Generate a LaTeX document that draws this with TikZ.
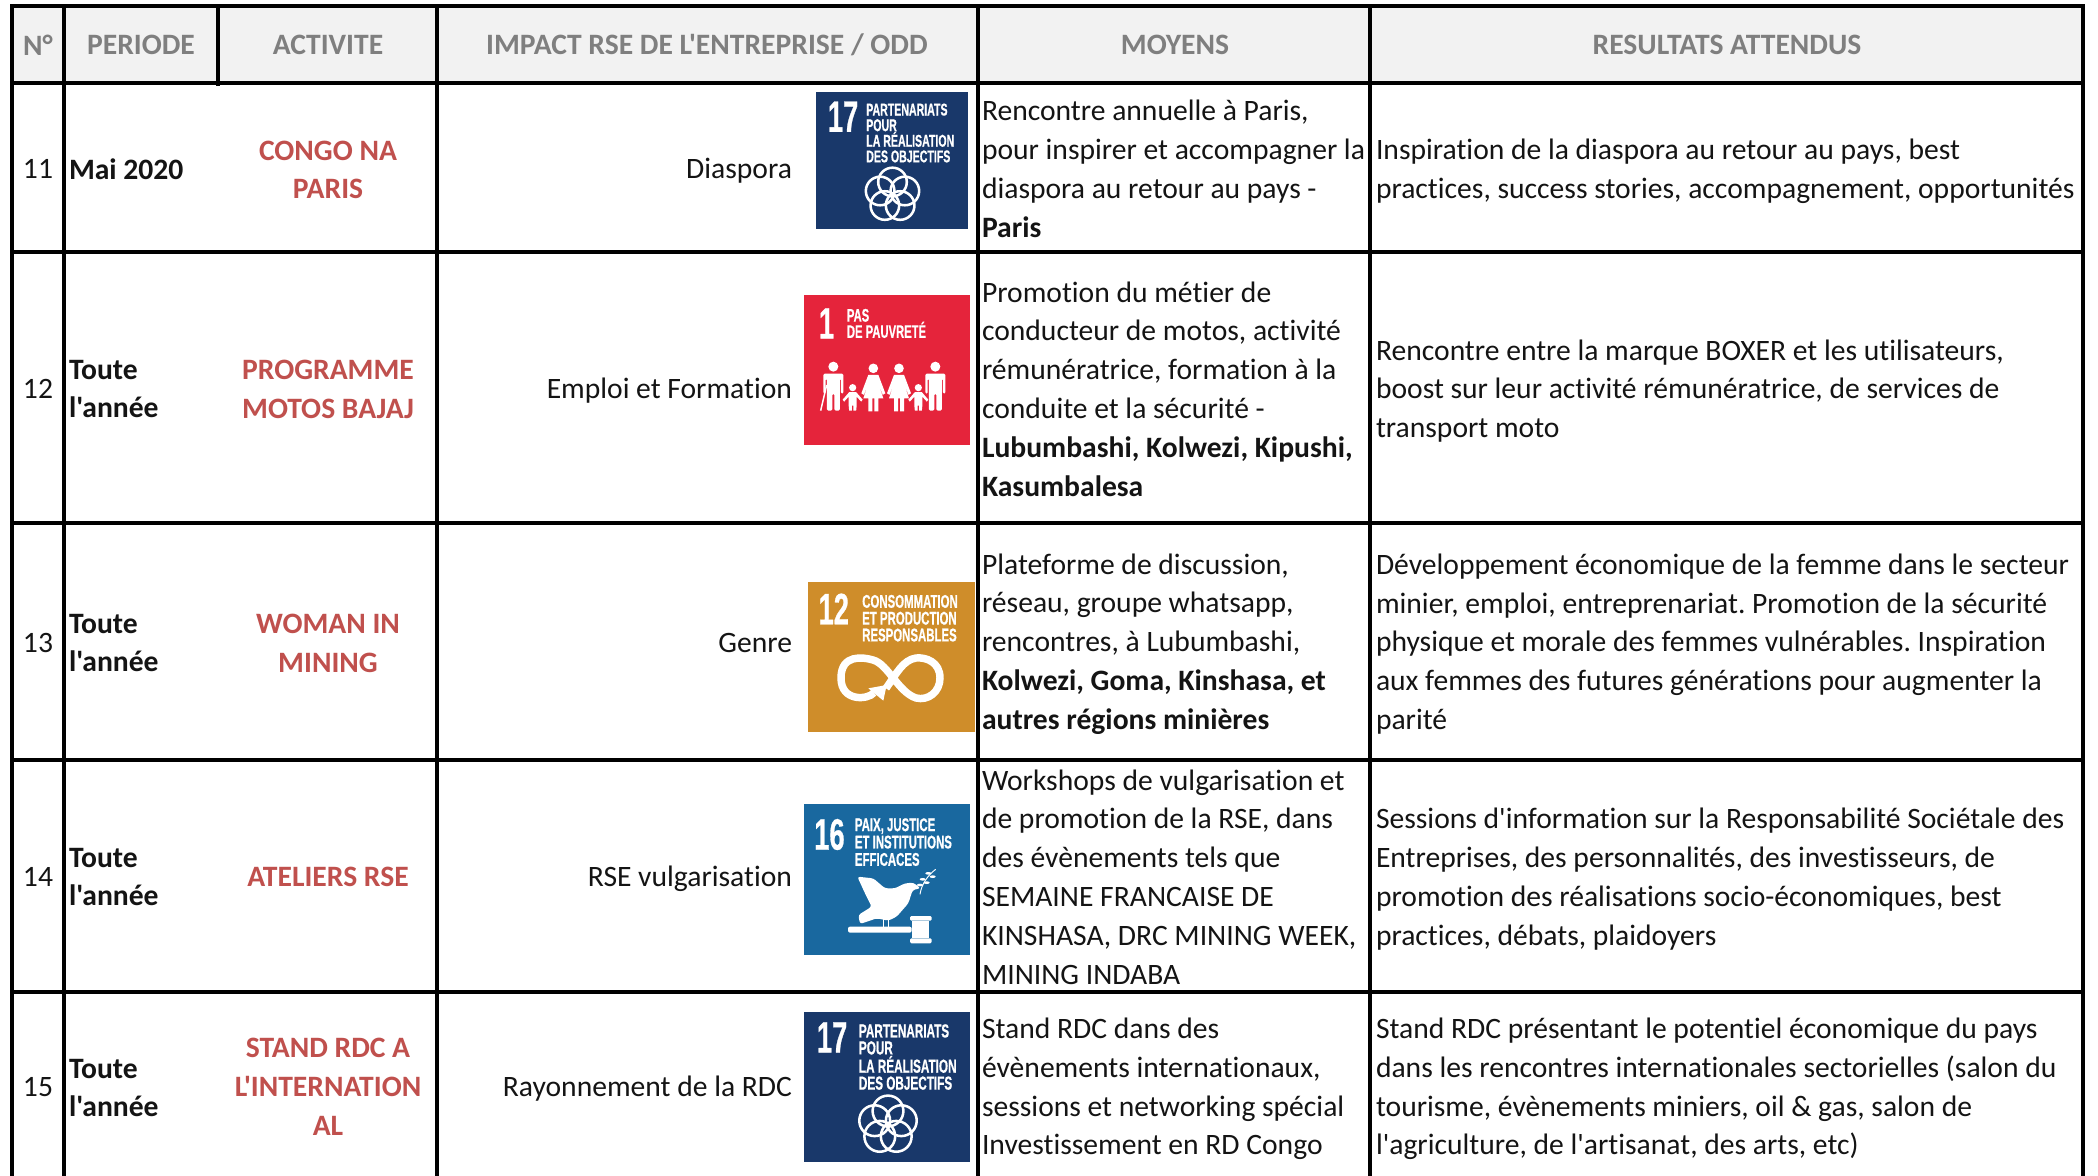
\documentclass[tikz,border=0pt]{standalone}
\usepackage{fontspec}
\setmainfont[Ligatures={TeXOff,NoCommon}]{Carlito}
\newfontfamily\sdgf[FakeStretch=0.62,BoldFeatures={FakeBold=0.6}]{Liberation Sans}
\definecolor{hdrbg}{HTML}{F2F2F2}
\definecolor{hdrtx}{HTML}{7F7F7F}
\definecolor{actred}{HTML}{C0504D}
\definecolor{sdgblue}{HTML}{19386A}
\definecolor{sdgred}{HTML}{E5243B}
\definecolor{sdggold}{HTML}{CF8D2A}
\definecolor{sdgteal}{HTML}{19689F}
\newcommand{\bodyfont}{\fontsize{22.2}{29.1}\selectfont\frenchspacing}
\tikzset{
  x=0.75pt,y=-0.75pt,
  body/.style={inner sep=0pt,outer sep=0pt,font=\bodyfont,text=black!92},
  hdr/.style={body,font=\bodyfont\bfseries,text=hdrtx,anchor=center},
  num/.style={body,anchor=center},
  per/.style={body,font=\bodyfont\bfseries,anchor=west,align=left},
  act/.style={body,font=\bodyfont\bfseries,text=actred,anchor=center,align=center},
  imp/.style={body,anchor=east},
  cel/.style={body,anchor=west,align=left},
  grid/.style={line width=3.4pt*0.75,black},
  sdgbig/.style={inner sep=0pt,text=white,anchor=north west,font=\sdgf\fontsize{33}{33}\selectfont\bfseries},
  sdgtxt/.style={inner sep=0pt,text=white,anchor=north west,align=left,font=\sdgf\fontsize{12.8}{11.7}\selectfont\bfseries},
  icon/.style={white,line width=1.9pt},
}
\newcommand{\sdgflower}[3]{% cx, cy, ring radius
  \foreach \a in {90,162,234,306,18}
    \draw[icon] ({#1+#3*cos(\a)},{#2-#3*sin(\a)}) circle[radius=#3*1.1];
}
\newcommand{\sdgman}[2]{\begin{scope}[shift={(#1,#2)},scale=3]
  \fill[white] (0,0) circle[radius=5];
  \fill[white,rounded corners=1pt] (-10,7) -- (10,7) -- (10,27) -- (7.6,27) -- (7.6,12) -- (6.5,12) -- (6.5,44) -- (1,44) -- (1,27) -- (-1,27) -- (-1,44) -- (-6.5,44) -- (-6.5,12) -- (-7.6,12) -- (-7.6,27) -- (-10,27) -- cycle;
\end{scope}}
\newcommand{\sdgwoman}[2]{\begin{scope}[shift={(#1,#2)},scale=3]
  \fill[white] (0,0) circle[radius=4.8];
  \fill[white] (-5,6.5) -- (5,6.5) -- (12,25) -- (9.5,26.5) -- (5,15) -- (10,30) -- (5,30) -- (5,43) -- (1,43) -- (1,30) -- (-1,30) -- (-1,43) -- (-5,43) -- (-5,30) -- (-10,30) -- (-5,15) -- (-9.5,26.5) -- (-12,25) -- cycle;
\end{scope}}
\newcommand{\sdgchild}[2]{\begin{scope}[shift={(#1,#2)},scale=3]
  \fill[white] (0,0) circle[radius=3.6];
  \fill[white] (-3.5,4.5) -- (3.5,4.5) -- (10,12) -- (8.5,14) -- (4,9) -- (4,18) -- (3.5,23) -- (.7,23) -- (.7,18) -- (-.7,18) -- (-.7,23) -- (-3.5,23) -- (-4,18) -- (-4,9) -- (-8.5,14) -- (-10,12) -- cycle;
\end{scope}}
\begin{document}
\begin{tikzpicture}
\path[use as bounding box,fill=white] (0,0) rectangle (2098,1176);
% header background
\fill[hdrbg] (12,6) rectangle (2083,83);
% SDG 17 (a)
\fill[sdgblue] (816,92) rectangle (968,229);
\begin{scope}[shift={(780,60)},scale=1/3]
  \node[sdgbig] (n17a) at (143,124) {17};
  \node[sdgtxt] (t17a) at (258,130) {PARTENARIATS\\POUR\\LA RÉALISATION\\DES OBJECTIFS};
\end{scope}
\sdgflower{892.5}{195}{13}
% SDG 1
\fill[sdgred] (804,295) rectangle (970,445);
\begin{scope}[shift={(780,60)},scale=1/3]
  \node[sdgbig] (n1) at (116,744) {1};
  \node[sdgtxt,font=\sdgf\fontsize{13.6}{12.2}\selectfont\bfseries] (t1) at (200,746) {PAS\\DE PAUVRETÉ};
  \sdgman{160}{920}
  \draw[white,line width=1.1pt] (122,1052) -- (140,975);
  \sdgchild{218}{983}
  \sdgwoman{280}{925}
  \sdgwoman{357}{925}
  \sdgchild{415}{983}
  \sdgman{466}{920}
\end{scope}
% SDG 12
\fill[sdggold] (808,582) rectangle (975,732);
\begin{scope}[shift={(780,560)},scale=1/3]
  \node[sdgbig] (n12) at (115,100) {12};
  \node[sdgtxt,font=\sdgf\fontsize{13.8}{12.6}\selectfont\bfseries] (t12) at (246,104) {CONSOMMATION\\ET PRODUCTION\\RESPONSABLES};
  \draw[white,line width=5.6pt] (282,398) .. controls (264,420) and (183,426) .. (183,354)
    .. controls (183,282) and (249,291) .. (279,300)
    .. controls (324,312) and (354,396) .. (408,414)
    .. controls (444,423) and (480,396) .. (480,354)
    .. controls (480,306) and (438,291) .. (408,294)
    .. controls (369,300) and (350,340) .. (318,385);
  \fill[white] (265,385) -- (320,375) -- (310,422) -- cycle;
\end{scope}
% SDG 16
\fill[sdgteal] (804,804) rectangle (970,955);
\begin{scope}[shift={(780,560)},scale=1/3]
  \node[sdgbig] (n16) at (102,776) {16};
  \node[sdgtxt,font=\sdgf\fontsize{13.8}{13}\selectfont\bfseries] (t16) at (224,774) {PAIX, JUSTICE\\ET INSTITUTIONS\\EFFICACES};
  \fill[white,rounded corners=2pt] (232,950) -- (280,955) -- (315,985) -- (345,985) -- (375,970) -- (400,968) -- (422,985) -- (398,990) -- (385,1030) -- (350,1070) -- (325,1082) -- (290,1075) -- (240,1092) -- (235,1065) -- (275,1040) -- (255,1000) -- cycle;
  \draw[white,line width=.9pt] (310,1075) -- (310,1105) (325,1075) -- (325,1105);
  \draw[white,line width=.7pt] (420,1003) .. controls (425,970) and (445,945) .. (467,928);
  \foreach \lx/\ly in {428/958,445/940,440/968,458/950,420/975}
    \fill[white] (\lx,\ly) ellipse[x radius=9,y radius=4];
  \fill[white,rounded corners=1.5pt] (204,1100) rectangle (395,1118);
  \fill[white] (395,1082) rectangle (448,1135);
  \fill[white,rounded corners=1pt] (390,1068) rectangle (455,1082);
  \fill[white,rounded corners=1pt] (390,1135) rectangle (455,1150);
\end{scope}
% SDG 17 (b)
\fill[sdgblue] (804,1012) rectangle (970,1162);
\begin{scope}[shift={(780,960)},scale=1/3]
  \node[sdgbig] (n17b) at (110,186) {17};
  \node[sdgtxt,font=\sdgf\fontsize{14.2}{12.7}\selectfont\bfseries] (t17b) at (236,192) {PARTENARIATS\\POUR\\LA RÉALISATION\\DES OBJECTIFS};
\end{scope}
\sdgflower{888}{1125}{14}
% grid
\foreach \yy in {6,83,252,523,760,992}
  \draw[grid] (12,\yy) -- (2083,\yy);
\foreach \xx in {12,64,437,978,1370,2083}
  \draw[grid] (\xx,4.5) -- (\xx,1176);
\draw[grid] (218,4.5) -- (218,86);
% header
\node[hdr] (h1) at (38,45) {N°};
\node[hdr] (h2) at (141,45) {PERIODE};
\node[hdr] (h3) at (328,45) {ACTIVITE};
\node[hdr] (h4) at (707,45) {IMPACT RSE DE L'ENTREPRISE / ODD};
\node[hdr] (h5) at (1175,45) {MOYENS};
\node[hdr] (h6) at (1727,45) {RESULTATS ATTENDUS};
% row 11
\node[num] (n11) at (38,169) {11};
\node[per] (p11) at (69,169) {Mai 2020};
\node[act] (a11) at (328,170) {CONGO NA\\PARIS};
\node[imp] (i11) at (792,171) {Diaspora};
\node[cel] (m11) at (982,169) {Rencontre annuelle à Paris,\\pour inspirer et accompagner la\\diaspora au retour au pays -\\\textbf{Paris}};
\node[cel] (r11) at (1376,171) {Inspiration de la diaspora au retour au pays, best\\practices, success stories, accompagnement, opportunités};
% row 12
\node[num] (n12r) at (38,389) {12};
\node[per] (p12) at (69,389) {Toute\\l'année};
\node[act] (a12) at (328,389) {PROGRAMME\\MOTOS BAJAJ};
\node[imp] (i12) at (792,391) {Emploi et Formation};
\node[cel] (m12) at (982,389) {Promotion du métier de\\conducteur de motos, activité\\rémunératrice, formation à la\\conduite et la sécurité -\\\textbf{Lubumbashi, Kolwezi, Kipushi,}\\\textbf{Kasumbalesa}};
\node[cel] (r12) at (1376,391) {Rencontre entre la marque BOXER et les utilisateurs,\\boost sur leur activité rémunératrice, de services de\\transport moto};
% row 13
\node[num] (n13) at (38,643) {13};
\node[per] (p13) at (69,643) {Toute\\l'année};
\node[act] (a13) at (328,643) {WOMAN IN\\MINING};
\node[imp] (i13) at (792,643) {Genre};
\node[cel] (m13) at (982,644) {Plateforme de discussion,\\réseau, groupe whatsapp,\\rencontres, à Lubumbashi,\\\textbf{Kolwezi, Goma, Kinshasa, et}\\\textbf{autres régions minières}};
\node[cel] (r13) at (1376,644) {Développement économique de la femme dans le secteur\\minier, emploi, entreprenariat. Promotion de la sécurité\\physique et morale des femmes vulnérables. Inspiration\\aux femmes des futures générations pour augmenter la\\parité};
% row 14
\node[num] (n14) at (38,877) {14};
\node[per] (p14) at (69,877) {Toute\\l'année};
\node[act] (a14) at (328,877) {ATELIERS RSE};
\node[imp] (i14) at (792,879) {RSE vulgarisation};
\node[cel] (m14) at (982,877) {Workshops de vulgarisation et\\de promotion de la RSE, dans\\des évènements tels que\\SEMAINE FRANCAISE DE\\KINSHASA, DRC MINING WEEK,\\MINING INDABA};
\node[cel] (r14) at (1376,879) {Sessions d'information sur la Responsabilité Sociétale des\\Entreprises, des personnalités, des investisseurs, de\\promotion des réalisations socio-économiques, best\\practices, débats, plaidoyers};
% row 15
\node[num] (n15) at (38,1087) {15};
\node[per] (p15) at (69,1088) {Toute\\l'année};
\node[act] (a15) at (328,1087) {STAND RDC A\\L'INTERNATION\\AL};
\node[imp] (i15) at (792,1089) {Rayonnement de la RDC};
\node[cel] (m15) at (982,1089) {Stand RDC dans des\\évènements internationaux,\\sessions et networking spécial\\Investissement en RD Congo};
\node[cel] (r15) at (1376,1089) {Stand RDC présentant le potentiel économique du pays\\dans les rencontres internationales sectorielles (salon du\\tourisme, évènements miniers, oil \& gas, salon de\\l'agriculture, de l'artisanat, des arts, etc)};
\end{tikzpicture}
\end{document}
